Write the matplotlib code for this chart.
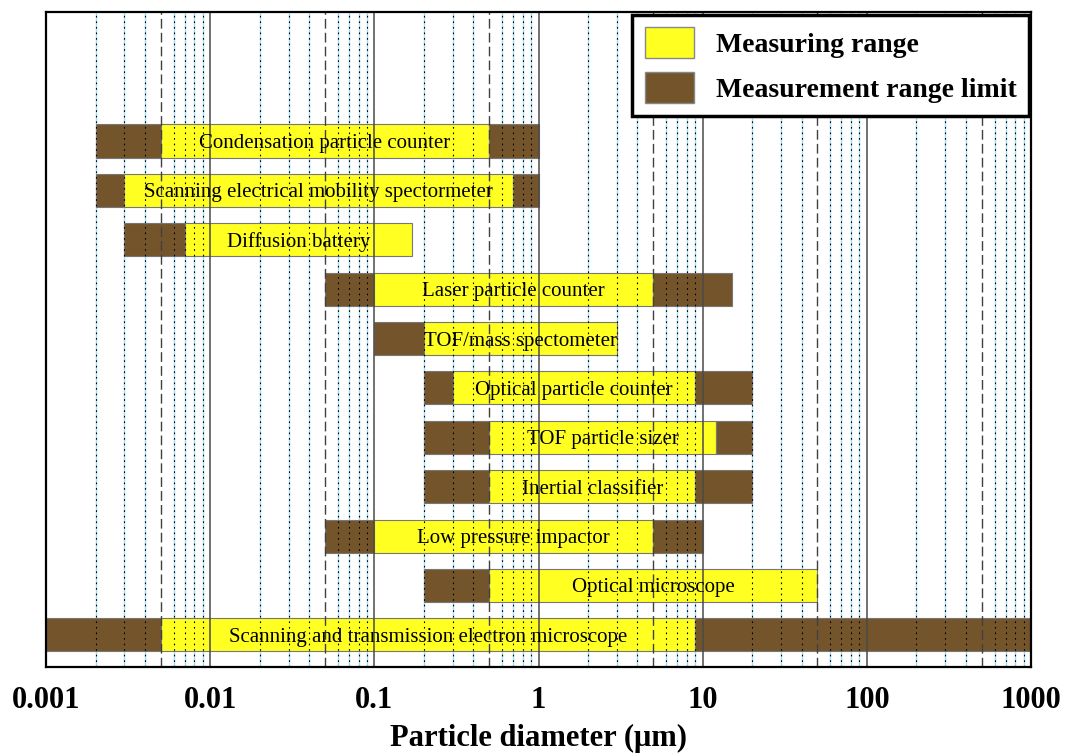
import numpy as np
import matplotlib
matplotlib.use("Agg")
import matplotlib.pyplot as plt
from matplotlib.patches import Patch

plt.rcParams['font.family'] = ['Liberation Serif', 'DejaVu Serif']

# instruments, top to bottom
instruments = [
    "Condensation particle counter",
    "Scanning electrical mobility spectormeter",
    "Diffusion battery",
    "Laser particle counter",
    "TOF/mass spectometer",
    "Optical particle counter",
    "TOF particle sizer",
    "Inertial classifier",
    "Low pressure impactor",
    "Optical microscope",
    "Scanning and transmission electron microscope",
]
# particle diameter (um): outer limit low, measuring range low/high, outer limit high
limit_lo = [0.002, 0.002, 0.003, 0.05, 0.1, 0.2, 0.2, 0.2, 0.05, 0.2, 0.001]
range_lo = [0.005, 0.003, 0.007, 0.1, 0.2, 0.3, 0.5, 0.5, 0.1, 0.5, 0.005]
range_hi = [0.5, 0.7, 0.17, 5, 3, 9, 12, 9, 5, 50, 9]
limit_hi = [1, 1, 0.17, 15, 3, 20, 20, 20, 10, 50, 1000]

tick_vals = [0.001, 0.01, 0.1, 1, 10, 100, 1000]
tick_labels = ["0.001", "0.01", "0.1", "1", "10", "100", "1000"]

YELLOW = "#FFFF22"
BROWN = "#74552B"

fig = plt.figure(figsize=(10.72, 7.55), dpi=100)
ax = fig.add_axes([0.043, 0.1166, 0.9188, 0.8674])
ax.set_xscale("log")
ax.set_xlim(0.001, 1000)
n = len(instruments)
ax.set_ylim(-0.65, n - 1 + 2.61)

# grid: decades solid, x5 dashed, the rest dotted over a light blue line
for dec in [0.001, 0.01, 0.1, 1, 10, 100]:
    for m in range(2, 10):
        x = dec * m
        if m == 5:
            ax.axvline(x, color="#404040", lw=1.0, ls=(0, (7, 3)), zorder=4)
        else:
            ax.axvline(x, color="#a6e0f7", lw=1.0, zorder=0.5)
            ax.axvline(x, color="black", lw=0.8, ls=(0, (1.5, 3.5)), zorder=4)
    if dec > 0.001:
        ax.axvline(dec, color="#4a4a4a", lw=1.1, zorder=4)

h = 0.67
for i, name in enumerate(instruments):
    y = n - 1 - i
    kw = dict(height=h, edgecolor="#777777", linewidth=0.8, zorder=2)
    if range_lo[i] > limit_lo[i]:
        ax.barh(y, range_lo[i] - limit_lo[i], left=limit_lo[i], color=BROWN, **kw)
    ax.barh(y, range_hi[i] - range_lo[i], left=range_lo[i], color=YELLOW, **kw)
    if limit_hi[i] > range_hi[i]:
        ax.barh(y, limit_hi[i] - range_hi[i], left=range_hi[i], color=BROWN, **kw)
    xc = np.sqrt(range_lo[i] * range_hi[i])
    ax.text(xc, y, name, ha="center", va="center_baseline", fontsize=15, zorder=5)

ax.set_xticks(tick_vals)
ax.set_xticklabels(tick_labels, fontsize=22, fontweight="bold")
ax.xaxis.set_minor_locator(matplotlib.ticker.NullLocator())
ax.tick_params(axis="x", length=0, pad=14)
ax.set_yticks([])
ax.set_xlabel("Particle diameter (\u03bcm)", fontsize=22, fontweight="bold", labelpad=6)
for s in ax.spines.values():
    s.set_linewidth(1.6)
    s.set_zorder(6)

handles = [
    Patch(facecolor=YELLOW, edgecolor="#888888", label="Measuring range"),
    Patch(facecolor=BROWN, edgecolor="#888888", label="Measurement range limit"),
]
leg = ax.legend(handles=handles, loc="upper right", bbox_to_anchor=(0.998, 0.996),
                prop={"size": 20, "weight": "bold"}, fancybox=False, framealpha=1,
                edgecolor="black", handlelength=1.75, handleheight=1.35,
                handletextpad=0.8, borderpad=0.45, labelspacing=0.5,
                borderaxespad=0.0)
leg.get_frame().set_linewidth(2.5)
leg.set_zorder(10)

fig.savefig("out.png", dpi=100)
